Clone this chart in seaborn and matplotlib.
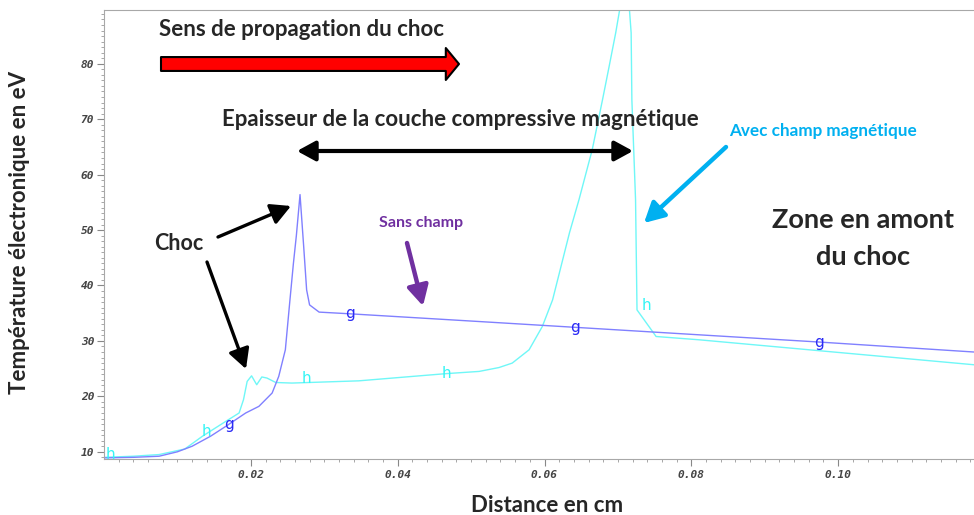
import numpy as np
import pandas as pd
import seaborn as sns
import matplotlib.pyplot as plt

# Sans champ (courbe g)
x_sans = [0.000, 0.004, 0.0075, 0.010, 0.012, 0.0145, 0.0166, 0.0193, 0.0211, 0.0229,
          0.0238, 0.0247, 0.0253, 0.0258, 0.0262, 0.0267, 0.0272, 0.0276, 0.0280, 0.0293,
          0.0334, 0.0511, 0.0811, 0.0974, 0.1185]
t_sans = [8.9, 9.0, 9.2, 10.0, 11.0, 12.8, 14.6, 17.0, 18.2, 20.6,
          23.6, 28.4, 37.0, 44.0, 49.0, 56.4, 47.0, 39.2, 36.5, 35.2,
          34.9, 33.5, 31.1, 29.8, 28.0]

# Avec champ magnétique (courbe h)
x_avec = [0.000, 0.004, 0.0075, 0.011, 0.0134, 0.0166, 0.0184, 0.0190, 0.0195, 0.0201,
          0.0208, 0.0215, 0.0222, 0.0234, 0.0256, 0.0347, 0.0466, 0.0511, 0.0538, 0.0556,
          0.0579, 0.0597, 0.0611, 0.0634, 0.0647, 0.0665, 0.0679, 0.0688, 0.0697, 0.0704,
          0.0715, 0.0718, 0.0719, 0.0724, 0.0726, 0.0752, 0.0811, 0.1185]
t_avec = [9.0, 9.2, 9.5, 10.5, 12.8, 15.5, 17.0, 19.4, 22.7, 23.7,
          22.1, 23.5, 23.3, 22.5, 22.4, 22.8, 24.1, 24.5, 25.2, 26.0,
          28.4, 32.6, 37.4, 49.5, 55.5, 64.5, 73.5, 79.5, 85.6, 91.0,
          91.0, 85.6, 73.5, 55.5, 35.6, 30.8, 30.2, 25.7]

# repères de courbe (lettres g / h)
g_marks = [0.0170, 0.0335, 0.0642, 0.0974]
h_marks = [0.0009, 0.0139, 0.0276, 0.0466, 0.0739]
h_marks_t = [9.6, 13.6, 23.3, 24.1, 36.4]

x_ticks = [0.02, 0.04, 0.06, 0.08, 0.10]
y_ticks = [10, 20, 30, 40, 50, 60, 70, 80]

W, H = 974, 515
BLUE_LINE = "#8080ff"
BLUE_TXT = "#2a2af5"
CYAN_LINE = "#6ff7f7"
CYAN_TXT = "#35f5f5"
SKY = "#00b0f0"
PURPLE = "#7030a0"
TXT_FONT = ["Lato", "DejaVu Sans"]


def fp(x, y):
    # pixel (haut-gauche) -> fraction de figure
    return (x / W, 1 - y / H)


def arrow(ax, start, end, color, lw, style):
    ax.annotate("", xy=fp(*end), xytext=fp(*start), xycoords="figure fraction",
                textcoords="figure fraction",
                arrowprops=dict(arrowstyle=style, mutation_scale=20, color=color, lw=lw,
                                shrinkA=0, shrinkB=0))


def main():
    sns.set_style("ticks")
    plt.rcParams["font.family"] = TXT_FONT

    fig = plt.figure(figsize=(W / 100, H / 100), dpi=100)
    ax = fig.add_axes([104 / W, 1 - 459 / H, (W - 104) / W, (459 - 10) / H])

    sans = pd.DataFrame({"x": x_sans, "T": t_sans})
    avec = pd.DataFrame({"x": x_avec, "T": t_avec})
    sns.lineplot(data=avec, x="x", y="T", ax=ax, color=CYAN_LINE, lw=1.0, estimator=None)
    sns.lineplot(data=sans, x="x", y="T", ax=ax, color=BLUE_LINE, lw=1.0, estimator=None)

    for xm in g_marks:
        ax.text(xm, np.interp(xm, x_sans, t_sans), "g", color=BLUE_TXT, fontsize=11,
                family="DejaVu Sans", ha="center", va="center")
    for xm, tm in zip(h_marks, h_marks_t):
        ax.text(xm, tm, "h", color=CYAN_TXT, fontsize=11,
                family="DejaVu Sans", ha="center", va="center")

    ax.set_xlim(0, 0.1185)
    ax.set_ylim(8.7, 89.7)
    ax.set_xticks(x_ticks)
    ax.set_xticklabels(["%.2f" % v for v in x_ticks])
    ax.set_yticks(y_ticks)
    ax.set_xticks(np.arange(0.002, 0.1185, 0.002), minor=True)
    ax.set_yticks(np.arange(9, 90, 1), minor=True)
    ax.set_xlabel("")
    ax.set_ylabel("")
    for s in ax.spines.values():
        s.set_color("#a8a8a8")
    ax.spines["right"].set_visible(False)
    ax.tick_params(which="major", length=5, width=0.8, color="#888888", pad=2)
    ax.tick_params(which="minor", length=2.5, width=0.6, color="#999999")
    ax.tick_params(axis="x", which="major", pad=3)
    for lab in ax.get_xticklabels() + ax.get_yticklabels():
        lab.set_family("DejaVu Sans Mono")
        lab.set_fontweight("bold")
        lab.set_fontstyle("italic")
        lab.set_fontsize(8)
        lab.set_color("#444444")

    # titres des axes
    fig.text(*fp(20, 232), "Température électronique en eV", rotation=90, ha="center",
             va="center", fontsize=16, fontweight="bold")
    fig.text(*fp(547, 505), "Distance en cm", ha="center", va="center",
             fontsize=16, fontweight="bold")

    # textes et flèches
    fig.text(*fp(159, 30), "Sens de propagation du choc", ha="left", va="center",
             fontsize=16, fontweight="bold")
    ax.annotate("", xy=fp(459, 64), xytext=fp(161, 64), xycoords="figure fraction",
                textcoords="figure fraction",
                arrowprops=dict(arrowstyle="simple,head_length=0.95,head_width=2.3,tail_width=1.0",
                                mutation_scale=10, fc="red", ec="black", lw=1.5,
                                shrinkA=0, shrinkB=0))

    fig.text(*fp(460, 120), "Epaisseur de la couche compressive magnétique", ha="center",
             va="center", fontsize=16, fontweight="bold")
    arrow(ax, (297, 151), (633, 151), "black", 3,
          "<|-|>,head_length=0.55,head_width=0.3")

    fig.text(*fp(729, 131), "Avec champ magnétique", ha="left", va="center",
             fontsize=12.3, fontweight="bold", color=SKY)
    arrow(ax, (726, 147), (644, 223), SKY, 3.2, "-|>,head_length=0.6,head_width=0.32")

    fig.text(*fp(863, 220), "Zone en amont", ha="center", va="center",
             fontsize=19.5, fontweight="bold")
    fig.text(*fp(863, 257), "du choc", ha="center", va="center",
             fontsize=19.5, fontweight="bold")

    fig.text(*fp(421, 223), "Sans champ", ha="center", va="center",
             fontsize=11.5, fontweight="bold", color=PURPLE)
    arrow(ax, (407, 243), (423, 306), PURPLE, 3.2, "-|>,head_length=0.6,head_width=0.32")

    fig.text(*fp(179, 243), "Choc", ha="center", va="center",
             fontsize=15.5, fontweight="bold")
    arrow(ax, (218, 237), (291, 206), "black", 2.4, "-|>,head_length=0.6,head_width=0.32")
    arrow(ax, (207, 262), (246, 369), "black", 2.4, "-|>,head_length=0.6,head_width=0.32")

    fig.savefig("out.png", dpi=100)


if __name__ == "__main__":
    main()
